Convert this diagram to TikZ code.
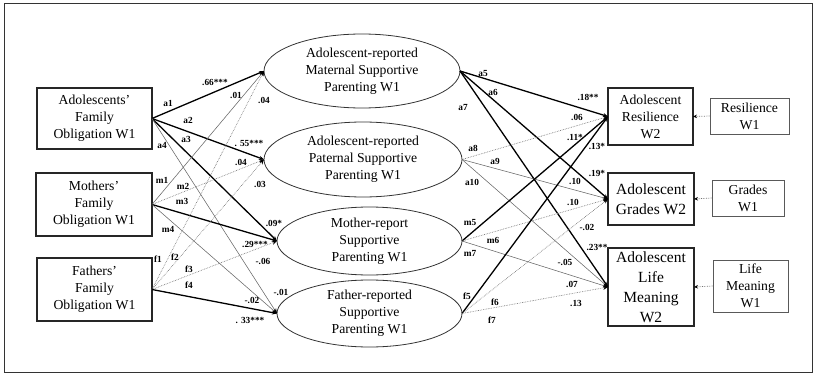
\documentclass[tikz,border=0pt]{standalone}
\usepackage{fontspec}
\setmainfont{Liberation Serif}
\usetikzlibrary{shapes.geometric,arrows.meta}
\begin{document}
\begin{tikzpicture}[x=1pt,y=-1pt,
 every node/.style={font=\fontsize{13.7}{17}\selectfont, align=center, inner sep=0pt, outer sep=0pt},
 ell/.style={ellipse, draw=black!80, line width=0.8pt},
 lbox/.style={rectangle, draw=black!85, line width=1.5pt},
 rbox/.style={rectangle, draw=black!85, line width=1.5pt},
 sbox/.style={rectangle, draw=black!65, line width=0.8pt},
 lab/.style={font=\fontsize{9.3}{11}\bfseries\selectfont},
 tip/.style={-{Stealth[length=5pt,width=4pt,color=black]}},
 sig/.style={tip, black, line width=1.3pt},
 ns/.style={tip, black!60, line width=0.55pt},
 nsd/.style={tip, black!55, line width=0.65pt, densely dotted},
 cov/.style={-{Stealth[length=4pt,width=3.5pt,color=black]}, black!55, line width=0.7pt, densely dotted}
]
\useasboundingbox (0,0) rectangle (816,377);
\draw[black!80, line width=0.8pt] (4,3) rectangle (812,372);

% left boxes
\node[lbox, minimum width=115pt, minimum height=61pt] (A) at (94.5,118.5) {Adolescents'\\Family\\Obligation W1};
\node[lbox, minimum width=116pt, minimum height=63pt] (M) at (94,204.5) {Mothers'\\Family\\Obligation W1};
\node[lbox, minimum width=115pt, minimum height=63pt] (F) at (94.5,289.5) {Fathers'\\Family\\Obligation W1};

% ellipses
\node[ell, minimum width=196pt, minimum height=74pt] (E1) at (362,71) {Adolescent-reported\\Maternal Supportive\\Parenting W1};
\node[ell, minimum width=198pt, minimum height=75pt] (E2) at (363,159.5) {Adolescent-reported\\Paternal Supportive\\Parenting W1};
\node[ell, minimum width=185pt, minimum height=68pt] (E3) at (369.5,241) {Mother-report\\Supportive\\Parenting W1};
\node[ell, minimum width=185pt, minimum height=67pt] (E4) at (369.5,313.5) {Father-reported\\Supportive\\Parenting W1};

% right outcome boxes
\node[rbox, minimum width=85pt, minimum height=57pt] (R) at (650.5,116.5) {Adolescent\\Resilience\\W2};
\node[rbox, minimum width=86pt, minimum height=52pt, font=\fontsize{15.5}{20}\selectfont] (G) at (651,199) {Adolescent\\Grades W2};
\node[rbox, minimum width=86pt, minimum height=78pt, font=\fontsize{15.5}{20}\selectfont] (L) at (651,287) {Adolescent\\Life\\Meaning\\W2};

% W1 controls
\node[sbox, minimum width=79pt, minimum height=36pt] (R1) at (749.5,116) {Resilience\\W1};
\node[sbox, minimum width=72pt, minimum height=36pt] (G1) at (748,198) {Grades\\W1};
\node[sbox, minimum width=75pt, minimum height=52pt] (L1) at (750.5,286) {Life\\Meaning\\W1};

\draw[cov] (R1.west) -- (R.east);
\draw[cov] (G1.west) -- (G.east);
\draw[cov] (L1.west) -- (L.east);

% left paths
\draw[sig] (A.east) -- (E1.west);
\draw[sig] (A.east) -- (E2.west);
\draw[sig] (A.east) -- (E3.west);
\draw[ns]  (A.east) -- (E4.west);
\draw[ns]  (M.east) -- (E1.west);
\draw[nsd] (M.east) -- (E2.west);
\draw[sig] (M.east) -- (E3.west);
\draw[ns]  (M.east) -- (E4.west);
\draw[nsd] (F.east) -- (E1.west);
\draw[nsd] (F.east) -- (E2.west);
\draw[nsd] (F.east) -- (E3.west);
\draw[sig] (F.east) -- (E4.west);

% right paths
\draw[sig] (E1.east) -- (R.west);
\draw[sig] (E1.east) -- (G.west);
\draw[sig] (E1.east) -- (L.west);
\draw[nsd] (E2.east) -- (R.west);
\draw[ns]  (E2.east) -- (G.west);
\draw[ns]  (E2.east) -- (L.west);
\draw[sig] (E3.east) -- (R.west);
\draw[nsd] (E3.east) -- (G.west);
\draw[ns]  (E3.east) -- (L.west);
\draw[sig] (E4.east) -- (R.west);
\draw[nsd] (E4.east) -- (G.west);
\draw[nsd] (E4.east) -- (L.west);

% left labels
\node[lab] (la1) at (168,103) {a1};
\node[lab] (la2) at (188,120) {a2};
\node[lab] (la3) at (186,139) {a3};
\node[lab] (la4) at (162,145) {a4};
\node[lab] (c1) at (215,82) {.66***};
\node[lab] (c2) at (236,95) {.01};
\node[lab] (c3) at (264,100) {.04};
\node[lab] (c4) at (249,143) {. 55***};
\node[lab] (c5) at (241,162) {.04};
\node[lab] (c6) at (260,184) {.03};
\node[lab] (lm1) at (162,180) {m1};
\node[lab] (lm2) at (183,186) {m2};
\node[lab] (lm3) at (182,201) {m3};
\node[lab] (lm4) at (168,229) {m4};
\node[lab] (c7) at (274,223) {.09*};
\node[lab] (c8) at (255,244) {.29***};
\node[lab] (c9) at (263,261) {-.06};
\node[lab] (lf1) at (158,259) {f1};
\node[lab] (lf2) at (175,257) {f2};
\node[lab] (lf3) at (189,269) {f3};
\node[lab] (lf4) at (189,285) {f4};
\node[lab] (c10) at (281,292) {-.01};
\node[lab] (c11) at (252,300) {-.02};
\node[lab] (c12) at (250,320) {. 33***};

% right labels
\node[lab] (la5) at (483,74) {a5};
\node[lab] (la6) at (493,92) {a6};
\node[lab] (la7) at (463,108) {a7};
\node[lab] (la8) at (473,148) {a8};
\node[lab] (la9) at (495,161) {a9};
\node[lab] (la10) at (472,182) {a10};
\node[lab] (lm5) at (470,222) {m5};
\node[lab] (lm6) at (493,240) {m6};
\node[lab] (lm7) at (470,253) {m7};
\node[lab] (lf5) at (467,296) {f5};
\node[lab] (lf6) at (495,302) {f6};
\node[lab] (lf7) at (492,320) {f7};
\node[lab] (d1) at (588,97) {.18**};
\node[lab] (d2) at (577,117) {.06};
\node[lab] (d3) at (575,137) {.11*};
\node[lab] (d4) at (597,146) {.13*};
\node[lab] (d5) at (597,173) {.19*};
\node[lab] (d6) at (575,181) {.10};
\node[lab] (d7) at (573,202) {.10};
\node[lab] (d8) at (587,227) {-.02};
\node[lab] (d9) at (597,247) {.23**};
\node[lab] (d10) at (565,262) {-.05};
\node[lab] (d11) at (572,284) {.07};
\node[lab] (d12) at (576,303) {.13};
\end{tikzpicture}
\end{document}
